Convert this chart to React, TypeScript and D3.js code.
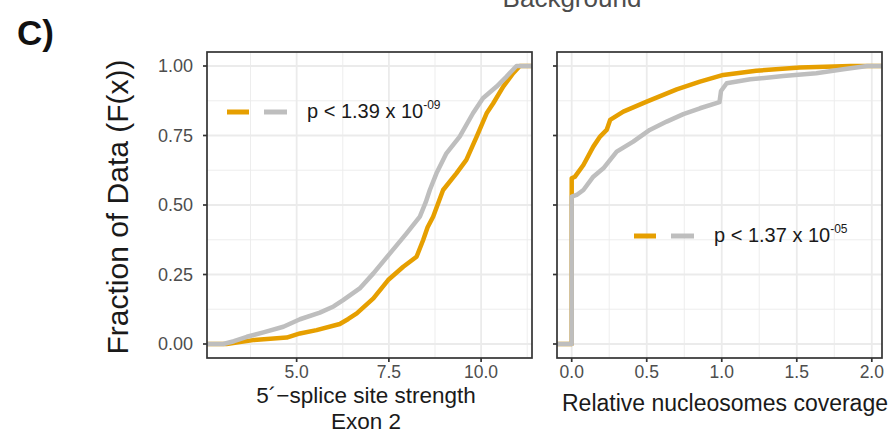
import React from "react";
import * as d3 from "d3";

// ---- Data ----
const strengthTicks = [5.0, 7.5, 10.0];
const coverageTicks = [0.0, 0.5, 1.0, 1.5, 2.0];
const fractionTicks = [0, 0.25, 0.5, 0.75, 1.0];

// Left panel: 5'-splice site strength (Exon 2)
const strengthBgX = [3.01, 3.3, 3.65, 4.1, 4.64, 5.09, 5.63, 6.0, 6.26, 6.71, 7.08, 7.53, 7.98, 8.34, 8.5, 8.61, 8.79, 9.06, 9.42, 9.78, 10.05, 10.42, 10.69, 10.96];
const strengthBgF = [0.0, 0.01, 0.026, 0.042, 0.062, 0.089, 0.113, 0.135, 0.158, 0.2, 0.254, 0.326, 0.398, 0.458, 0.51, 0.554, 0.614, 0.686, 0.746, 0.83, 0.884, 0.926, 0.962, 1.0];
const strengthFgX = [3.1, 3.82, 4.73, 5.09, 5.54, 6.17, 6.4, 6.63, 7.08, 7.48, 7.89, 8.25, 8.43, 8.55, 8.7, 8.97, 9.33, 9.6, 9.88, 10.15, 10.33, 10.6, 10.87, 11.05];
const strengthFgF = [0.0, 0.014, 0.023, 0.038, 0.05, 0.072, 0.09, 0.11, 0.164, 0.23, 0.278, 0.314, 0.374, 0.42, 0.458, 0.554, 0.614, 0.662, 0.746, 0.83, 0.866, 0.926, 0.974, 1.0];

// Right panel: relative nucleosomes coverage
const coverageBgX = [0, 0, 0.033, 0.078, 0.144, 0.211, 0.3, 0.41, 0.52, 0.633, 0.744, 0.855, 0.985, 0.995, 1.033, 1.19, 1.41, 1.63, 1.81, 1.97];
const coverageBgF = [0, 0.53, 0.536, 0.554, 0.602, 0.632, 0.692, 0.728, 0.77, 0.8, 0.827, 0.848, 0.87, 0.91, 0.938, 0.952, 0.964, 0.974, 0.988, 1.0];
const coverageFgX = [0, 0, 0.022, 0.078, 0.144, 0.189, 0.233, 0.256, 0.344, 0.5, 0.7, 0.855, 1.01, 1.23, 1.52, 1.86];
const coverageFgF = [0, 0.596, 0.602, 0.644, 0.71, 0.746, 0.77, 0.806, 0.836, 0.872, 0.916, 0.944, 0.968, 0.983, 0.995, 1.0];

const pLabels = ["p < 1.39 x 10", "p < 1.37 x 10"];
const pExponents = ["-09", "-05"];

const ORANGE = "#E69F00";
const GREY = "#BEBEBE";
const FONT = "'Liberation Sans', Arial, Helvetica, sans-serif";

type PanelProps = {
  x0: number;
  x1: number;
  domain: [number, number];
  ticks: number[];
  tickFmt: (v: number) => string;
  fgX: number[];
  fgF: number[];
  bgX: number[];
  bgF: number[];
  id: string;
};

const yScale = d3.scaleLinear().domain([-0.05, 1.05]).range([357.9, 52.1]);
const PTOP = 52;
const PBOT = 358;

function Panel({ x0, x1, domain, ticks, tickFmt, fgX, fgF, bgX, bgF, id }: PanelProps) {
  const x = d3.scaleLinear().domain(domain).range([x0, x1]);
  const step = ticks[1] - ticks[0];
  const minor: number[] = [];
  for (let v = ticks[0] - step / 2; v <= domain[1]; v += step) {
    if (v >= domain[0]) minor.push(v);
  }
  const minorY = fractionTicks.slice(0, -1).map((v) => v + 0.125);
  const line = d3
    .line<[number, number]>()
    .x((d) => x(d[0]))
    .y((d) => yScale(d[1]))
    .curve(d3.curveLinear);
  const pad = (xs: number[], fs: number[]): [number, number][] => {
    const pts: [number, number][] = xs.map((v, i) => [v, fs[i]]);
    return [[domain[0], 0], ...pts, [domain[1], 1]];
  };
  return (
    <g>
      <defs>
        <clipPath id={id}>
          <rect x={x0} y={PTOP} width={x1 - x0} height={PBOT - PTOP} />
        </clipPath>
      </defs>
      <rect x={x0} y={PTOP} width={x1 - x0} height={PBOT - PTOP} fill="#fff" />
      {minor.map((v) => (
        <line key={"mx" + v} x1={x(v)} x2={x(v)} y1={PTOP} y2={PBOT} stroke="#EBEBEB" strokeWidth={0.9} />
      ))}
      {minorY.map((v) => (
        <line key={"my" + v} x1={x0} x2={x1} y1={yScale(v)} y2={yScale(v)} stroke="#EBEBEB" strokeWidth={0.9} />
      ))}
      {ticks.map((v) => (
        <line key={"Mx" + v} x1={x(v)} x2={x(v)} y1={PTOP} y2={PBOT} stroke="#EBEBEB" strokeWidth={1.8} />
      ))}
      {fractionTicks.map((v) => (
        <line key={"My" + v} x1={x0} x2={x1} y1={yScale(v)} y2={yScale(v)} stroke="#EBEBEB" strokeWidth={1.8} />
      ))}
      <g clipPath={`url(#${id})`}>
        <path d={line(pad(fgX, fgF)) || ""} fill="none" stroke={ORANGE} strokeWidth={4.5} strokeLinejoin="round" />
        <path d={line(pad(bgX, bgF)) || ""} fill="none" stroke={GREY} strokeWidth={4.5} strokeLinejoin="round" />
      </g>
      <rect x={x0} y={PTOP} width={x1 - x0} height={PBOT - PTOP} fill="none" stroke="#333" strokeWidth={1.7} />
      {fractionTicks.map((v) => (
        <line key={"ty" + v} x1={x0 - 4} x2={x0} y1={yScale(v)} y2={yScale(v)} stroke="#333" strokeWidth={1.7} />
      ))}
      {ticks.map((v) => (
        <g key={"tx" + v}>
          <line x1={x(v)} x2={x(v)} y1={PBOT} y2={PBOT + 4} stroke="#333" strokeWidth={1.7} />
          <text x={x(v)} y={377.5} textAnchor="middle" fontSize={17.5} fill="#4D4D4D" fontFamily={FONT}>
            {tickFmt(v)}
          </text>
        </g>
      ))}
    </g>
  );
}

function Legend({ x, y, label, exp }: { x: number; y: number; label: string; exp: string }) {
  return (
    <g>
      <line x1={x} x2={x + 22} y1={y} y2={y} stroke={ORANGE} strokeWidth={5} />
      <line x1={x + 37} x2={x + 60} y1={y} y2={y} stroke={GREY} strokeWidth={5} />
      <text x={x + 80} y={y + 6} fontSize={20} fill="#1A1A1A" fontFamily={FONT}>
        {label}
        <tspan fontSize={12} dy={-9}>{exp}</tspan>
      </text>
    </g>
  );
}

export default function App() {
  return (
    <svg
      width={893}
      height={435}
      style={{ position: "absolute", left: 0, top: 0, background: "#fff" }}
      fontFamily={FONT}
    >
      <text x={572} y={7} textAnchor="middle" fontSize={26} fill="#4D4D4D">
        Background
      </text>
      <text x={17} y={45} fontSize={35} fontWeight="bold" fill="#111">
        C)
      </text>
      <text
        transform="translate(128,207) rotate(-90)"
        textAnchor="middle"
        fontSize={30}
        fill="#1A1A1A"
      >
        Fraction of Data (F(x))
      </text>
      {fractionTicks.map((v) => (
        <text key={"yl" + v} x={193} y={yScale(v) + 6} textAnchor="end" fontSize={18} fill="#4D4D4D">
          {v.toFixed(2)}
        </text>
      ))}
      <Panel
        id="clipL"
        x0={207}
        x1={532}
        domain={[2.57, 11.38]}
        ticks={strengthTicks}
        tickFmt={(v) => v.toFixed(1)}
        fgX={strengthFgX}
        fgF={strengthFgF}
        bgX={strengthBgX}
        bgF={strengthBgF}
      />
      <Panel
        id="clipR"
        x0={557}
        x1={882}
        domain={[-0.098, 2.068]}
        ticks={coverageTicks}
        tickFmt={(v) => v.toFixed(1)}
        fgX={coverageFgX}
        fgF={coverageFgF}
        bgX={coverageBgX}
        bgF={coverageBgF}
      />
      <Legend x={227} y={112} label={pLabels[0]} exp={pExponents[0]} />
      <Legend x={634} y={236} label={pLabels[1]} exp={pExponents[1]} />
      <text x={366} y={403} textAnchor="middle" fontSize={22.5} fill="#1A1A1A">
        5´−splice site strength
      </text>
      <text x={366} y={429} textAnchor="middle" fontSize={22.5} fill="#1A1A1A">
        Exon 2
      </text>
      <text x={725} y={411} textAnchor="middle" fontSize={23} fill="#1A1A1A">
        Relative nucleosomes coverage
      </text>
    </svg>
  );
}
